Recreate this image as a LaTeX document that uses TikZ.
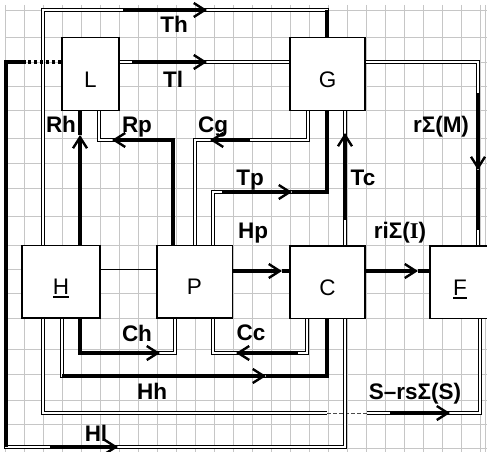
\documentclass[tikz,border=0pt]{standalone}
\usepackage{fontspec}
\setmainfont{Liberation Sans}
\newfontfamily\romanI{Liberation Serif}
\usetikzlibrary{arrows.meta}
\newcommand{\ulbox}[1]{\setbox0\hbox{#1}\rlap{\rule[-3.5pt]{\wd0}{1.6pt}}\box0}

\begin{document}
\begin{tikzpicture}
[x=1pt,y=-1pt,
gridline/.style={gray!45,line width=0.8pt},
box/.style={draw,line width=1.5pt,fill=white,inner sep=0pt,minimum height=72.5pt,text height=26pt,text depth=0pt,font=\fontsize{22.5}{27}\selectfont},
lab/.style={anchor=base,inner sep=0pt,font=\fontsize{22.5}{27}\selectfont\bfseries},
dbl/.style={double,line width=1.3pt,double distance=1.4pt},
heavy/.style={line width=3.4pt},
flow/.style={line width=3.4pt,-{Straight Barb[length=11pt,width=14pt,line width=2.4pt]}},
thinline/.style={line width=0.9pt},
gapline/.style={line width=0.8pt,black!70,dash pattern=on 4pt off 2pt}]
\useasboundingbox (0,0) rectangle (487,452);
\clip (0,0) rectangle (487,452);
\foreach \gx in {5,24,...,480}
\draw[gridline] (\gx,5) -- (\gx,452);
\draw[gridline] (485,5) -- (485,452);
\foreach \gy in {10,37,62,86,110,138,163,188,216,245,269,293,318,349,374,400,424,448}
\draw[gridline] (5,\gy) -- (487,\gy);
\node[box,minimum width=57pt] (L) at (90.5,74) {L};
\node[box,minimum width=75pt] (G) at (327.5,74) {G};
\node[box,minimum width=78pt] (H) at (61,281.5) {\ulbox{H}};
\node[box,minimum width=75.5pt] (P) at (194.5,281.5) {P};
\node[box,minimum width=75pt] (C) at (327.5,282) {C};
\node[box,minimum width=60pt] (F) at (460,282) {\ulbox{F}};
\draw[dbl] (H.north -| 43,0) |- (123,10) coordinate (th1) -- (207,10) coordinate (th2) -- (327,10) coordinate (th3) -- (G.north -| th3);
\draw[heavy] (th3) -- (G.north -| th3);
\draw[flow] (th1) -- (th2);
\draw[dbl] (L.east |- 0,62) -- (132,62) coordinate (tl1) -- (207,62) coordinate (tl2) -- (G.west |- tl2);
\draw[flow] (tl1) -- (tl2);
\draw[dbl] (G.east |- 0,62) -| (478,93) coordinate (rm1) -- (478,170) coordinate (rm2) -- (478,230) coordinate (rm3) -- (F.north -| rm3);
\draw[flow] (rm1) -- (rm2);
\draw[heavy] (rm2) -- (rm3);
\draw[flow] (H.north -| 80,0) -- (80,135) coordinate (rh1);
\draw[heavy] (rh1) -- (L.south -| rh1);
\draw[dbl] (P.north -| 173,0) |- (112,140) coordinate (rp1) -| (L.south -| 99,0);
\draw[flow] (P.north -| 173,0) |- (rp1);
\draw[dbl] (G.south -| 308,0) |- (250,140) coordinate (cg1) -- (210,140) coordinate (cg2) -| (P.north -| 195,0);
\draw[flow] (cg1) -- (cg2);
\draw[dbl] (P.north -| 213,0) |- (222,192) coordinate (tp1) -- (292,192) coordinate (tp2) -- (327,192) coordinate (tp3) -- (G.south -| tp3);
\draw[flow] (tp1) -- (tp2);
\draw[heavy] (tp2) -- (tp3) -- (G.south -| tp3);
\draw[dbl] (C.north -| 345,0) -- (345,220) coordinate (tc1) -- (345,133) coordinate (tc2) -- (G.south -| tc2);
\draw[flow] (tc1) -- (tc2);
\draw[flow] (P.east |- 0,271) -- (282,271) coordinate (hp1);
\draw[heavy] (hp1) -- (C.west |- hp1);
\draw[flow] (C.east |- 0,271) -- (418,271) coordinate (ri1);
\draw[heavy] (ri1) -- (F.west |- ri1);
\draw[thinline] (H.east |- 0,269) -- (P.west |- 0,269);
\draw[dbl] (H.south -| 80,0) |- (160,353) coordinate (ch1) -| (P.south -| 175,0);
\draw[flow] (H.south -| 80,0) |- (ch1);
\draw[dbl] (C.south -| 307,0) |- (298,353) coordinate (cc1) -- (236,353) coordinate (cc2) -| (P.south -| 213,0);
\draw[flow] (cc1) -- (cc2);
\draw[dbl] (H.south -| 62,0) -- (62,376) coordinate (hh0) -- (266,376) coordinate (hh1) -- (327,376) coordinate (hh2) -- (C.south -| hh2);
\draw[flow] (hh0) -- (hh1);
\draw[heavy] (hh1) -- (hh2) -- (C.south -| hh2);
\draw[dbl] (H.south -| 43,0) |- (327,413) coordinate (sr1);
\draw[gapline] (sr1) -- (367,413) coordinate (sr2);
\draw[dbl] (sr2) -- (390,413) coordinate (sr3) -- (450,413) coordinate (sr4) -| (F.south -| 480,0);
\draw[flow] (sr3) -- (sr4);
\draw[heavy,dash pattern=on 3pt off 3pt] (L.west |- 0,62) -- (25,62) coordinate (hl1);
\draw[dbl] (hl1) -- (6,62) coordinate (hl2) -- (6,447) coordinate (hl3) -- (50,447) coordinate (hl4) -- (118,447) coordinate (hl5) -| (C.south -| 345,0);
\draw[heavy] (hl1) -- (hl2) -- (hl3);
\draw[flow] (hl4) -- (hl5);
\node[lab] (tTh) at (174,33) {Th};
\node[lab] (tTl) at (173,87) {Tl};
\node[lab] (tRh) at (61,132) {Rh};
\node[lab] (tRp) at (137,132) {Rp};
\node[lab] (tCg) at (213,132) {Cg};
\node[lab] (tRm) at (441,132) {rΣ(M)};
\node[lab] (tTp) at (250,185) {Tp};
\node[lab] (tTc) at (363,185) {Tc};
\node[lab] (tHp) at (253,238) {Hp};
\node[lab] (tRi) at (400,238) {riΣ({\romanI\bfseries I})};
\node[lab] (tCh) at (137,341) {Ch};
\node[lab] (tCc) at (251,340) {Cc};
\node[lab] (tHh) at (152,399) {Hh};
\node[lab] (tSr) at (415,399) {S–rsΣ(S)};
\node[lab] (tHl) at (96,441) {Hl};
\end{tikzpicture}
\end{document}
